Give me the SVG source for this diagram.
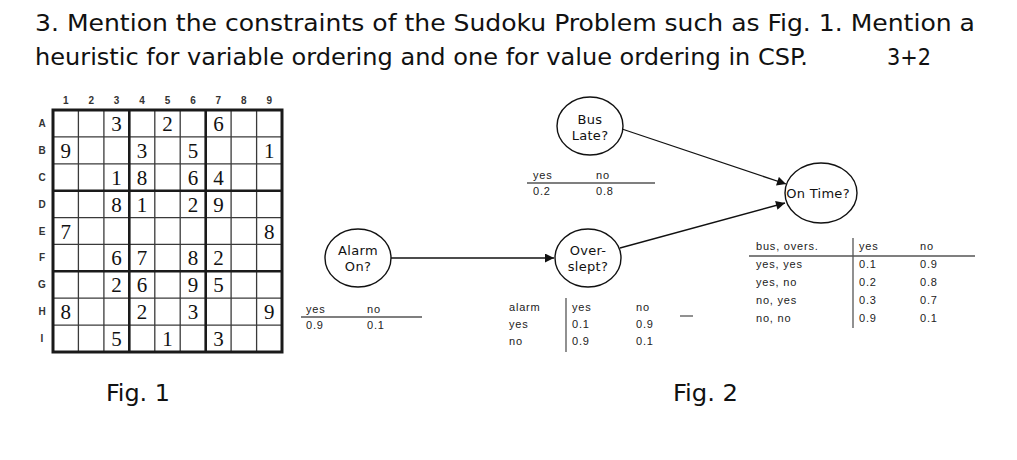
<svg xmlns="http://www.w3.org/2000/svg" width="1017" height="460" viewBox="0 0 1017 460">
<style>
.title{font-family:"DejaVu Sans Condensed","DejaVu Sans",sans-serif;font-size:23px;fill:#111}
.fig{font-family:"DejaVu Sans Condensed","DejaVu Sans",sans-serif;font-size:23px;fill:#111}
.lab{font-family:"Liberation Sans",Arial,sans-serif;font-size:10px;fill:#333;font-weight:bold;text-anchor:middle}
.dig{font-family:"Liberation Serif","Times New Roman",serif;font-size:21px;fill:#111;text-anchor:middle}
.thin{stroke:#3a3a3a;stroke-width:1.3;fill:none}
.thick{stroke:#1a1a1a;stroke-width:2.6;fill:none}
.node{fill:#fff;stroke:#111;stroke-width:1.4}
.nl{font-family:"DejaVu Sans",Verdana,sans-serif;font-size:13px;fill:#111;text-anchor:middle;letter-spacing:0.3px}
.tb{font-family:"Liberation Sans",Arial,sans-serif;font-size:11px;fill:#222;letter-spacing:0.8px}
.rule{stroke:#555;stroke-width:1.3}
.edge{stroke:#111;stroke-width:1.3;fill:none}
</style>
<defs>
<marker id="arr" viewBox="0 0 10 10" refX="10" refY="5" markerWidth="10" markerHeight="9" markerUnits="userSpaceOnUse" orient="auto">
<path d="M0,0 L10,5 L0,10 z" fill="#111"/>
</marker>
</defs>
<rect width="1017" height="460" fill="#fff"/>

<g id="question">
<text class="title" x="35" y="31" textLength="940" lengthAdjust="spacingAndGlyphs">3. Mention the constraints of the Sudoku Problem such as Fig. 1. Mention a</text>
<text class="title" x="35" y="65" textLength="773" lengthAdjust="spacingAndGlyphs">heuristic for variable ordering and one for value ordering in CSP.</text>
<text class="title" x="887" y="65" textLength="44" lengthAdjust="spacingAndGlyphs">3+2</text>
</g>

<g id="sudoku">
<g class="lab">
<text x="65.7" y="104">1</text><text x="91.2" y="104">2</text><text x="116.6" y="104">3</text><text x="142.1" y="104">4</text><text x="167.5" y="104">5</text><text x="193" y="104">6</text><text x="218.4" y="104">7</text><text x="243.8" y="104">8</text><text x="269.3" y="104">9</text>
<text x="42" y="127">A</text><text x="42" y="154">B</text><text x="42" y="181">C</text><text x="42" y="208">D</text><text x="42" y="235">E</text><text x="42" y="261">F</text><text x="42" y="288">G</text><text x="42" y="315">H</text><text x="42" y="342">I</text>
</g>
<g class="thin">
<line x1="78.4" y1="110" x2="78.4" y2="352"/><line x1="103.9" y1="110" x2="103.9" y2="352"/>
<line x1="154.8" y1="110" x2="154.8" y2="352"/><line x1="180.2" y1="110" x2="180.2" y2="352"/>
<line x1="231.1" y1="110" x2="231.1" y2="352"/><line x1="256.6" y1="110" x2="256.6" y2="352"/>
<line x1="53" y1="136.9" x2="282" y2="136.9"/><line x1="53" y1="163.8" x2="282" y2="163.8"/>
<line x1="53" y1="217.6" x2="282" y2="217.6"/><line x1="53" y1="244.4" x2="282" y2="244.4"/>
<line x1="53" y1="298.2" x2="282" y2="298.2"/><line x1="53" y1="325.1" x2="282" y2="325.1"/>
</g>
<g class="thick">
<line x1="129.3" y1="110" x2="129.3" y2="352"/><line x1="205.7" y1="110" x2="205.7" y2="352"/>
<line x1="53" y1="190.7" x2="282" y2="190.7"/><line x1="53" y1="271.3" x2="282" y2="271.3"/>
<rect x="53" y="110" width="229" height="242" stroke-width="3"/>
</g>
<g class="dig">
<text x="116.6" y="131">3</text><text x="167.5" y="131">2</text><text x="218.4" y="131">6</text>
<text x="65.7" y="157.9">9</text><text x="142.1" y="157.9">3</text><text x="193" y="157.9">5</text><text x="269.3" y="157.9">1</text>
<text x="116.6" y="184.8">1</text><text x="142.1" y="184.8">8</text><text x="193" y="184.8">6</text><text x="218.4" y="184.8">4</text>
<text x="116.6" y="211.7">8</text><text x="142.1" y="211.7">1</text><text x="193" y="211.7">2</text><text x="218.4" y="211.7">9</text>
<text x="65.7" y="238.6">7</text><text x="269.3" y="238.6">8</text>
<text x="116.6" y="265.4">6</text><text x="142.1" y="265.4">7</text><text x="193" y="265.4">8</text><text x="218.4" y="265.4">2</text>
<text x="116.6" y="292.3">2</text><text x="142.1" y="292.3">6</text><text x="193" y="292.3">9</text><text x="218.4" y="292.3">5</text>
<text x="65.7" y="319.2">8</text><text x="142.1" y="319.2">2</text><text x="193" y="319.2">3</text><text x="269.3" y="319.2">9</text>
<text x="116.6" y="346.1">5</text><text x="167.5" y="346.1">1</text><text x="218.4" y="346.1">3</text>
</g>
</g>

<g id="connectors">
<line class="edge" x1="391" y1="258" x2="554" y2="258" marker-end="url(#arr)"/>
<line class="edge" x1="622" y1="129" x2="786" y2="184" marker-end="url(#arr)"/>
<line class="edge" x1="620" y1="248" x2="785" y2="203" marker-end="url(#arr)"/>
</g>

<g id="bus-late">
<ellipse class="node" cx="590" cy="126" rx="33" ry="29"/>
<text class="nl" x="590" y="124">Bus</text>
<text class="nl" x="590" y="140">Late?</text>
</g>
<g id="alarm-on">
<ellipse class="node" cx="358" cy="258" rx="33" ry="29"/>
<text class="nl" x="358" y="255">Alarm</text>
<text class="nl" x="358" y="271">On?</text>
</g>
<g id="overslept">
<ellipse class="node" cx="588" cy="258" rx="33" ry="29"/>
<text class="nl" x="588" y="255">Over-</text>
<text class="nl" x="588" y="271">slept?</text>
</g>
<g id="on-time">
<ellipse class="node" cx="821" cy="193" rx="36" ry="30"/>
<text class="nl" x="818" y="198">On Time?</text>
</g>

<g id="cpt-bus">
<text class="tb" x="533" y="179">yes</text><text class="tb" x="596" y="179">no</text>
<line class="rule" x1="527" y1="183" x2="655" y2="183"/>
<text class="tb" x="533" y="195">0.2</text><text class="tb" x="596" y="195">0.8</text>
</g>
<g id="cpt-alarm">
<text class="tb" x="306" y="313">yes</text><text class="tb" x="367" y="313">no</text>
<line class="rule" x1="301" y1="317" x2="422" y2="317"/>
<text class="tb" x="306" y="329">0.9</text><text class="tb" x="367" y="329">0.1</text>
</g>
<g id="cpt-overslept">
<text class="tb" x="509" y="311">alarm</text><text class="tb" x="572" y="311">yes</text><text class="tb" x="636" y="311">no</text>
<line class="rule" x1="566" y1="298" x2="566" y2="352"/>
<text class="tb" x="509" y="328">yes</text><text class="tb" x="572" y="328">0.1</text><text class="tb" x="636" y="328">0.9</text>
<text class="tb" x="509" y="345">no</text><text class="tb" x="572" y="345">0.9</text><text class="tb" x="636" y="345">0.1</text>
<line class="rule" x1="680" y1="316" x2="693" y2="316"/>
</g>
<g id="cpt-ontime">
<text class="tb" x="756" y="250">bus, overs.</text><text class="tb" x="859" y="250">yes</text><text class="tb" x="920" y="250">no</text>
<line class="rule" x1="749" y1="256" x2="975" y2="256"/>
<line class="rule" x1="853" y1="238" x2="853" y2="328"/>
<text class="tb" x="756" y="268">yes, yes</text><text class="tb" x="859" y="268">0.1</text><text class="tb" x="920" y="268">0.9</text>
<text class="tb" x="756" y="286">yes, no</text><text class="tb" x="859" y="286">0.2</text><text class="tb" x="920" y="286">0.8</text>
<text class="tb" x="756" y="304">no, yes</text><text class="tb" x="859" y="304">0.3</text><text class="tb" x="920" y="304">0.7</text>
<text class="tb" x="756" y="322">no, no</text><text class="tb" x="859" y="322">0.9</text><text class="tb" x="920" y="322">0.1</text>
</g>

<text class="fig" x="106" y="401" textLength="64" lengthAdjust="spacingAndGlyphs">Fig. 1</text>
<text class="fig" x="673" y="401" textLength="65" lengthAdjust="spacingAndGlyphs">Fig. 2</text>
</svg>
